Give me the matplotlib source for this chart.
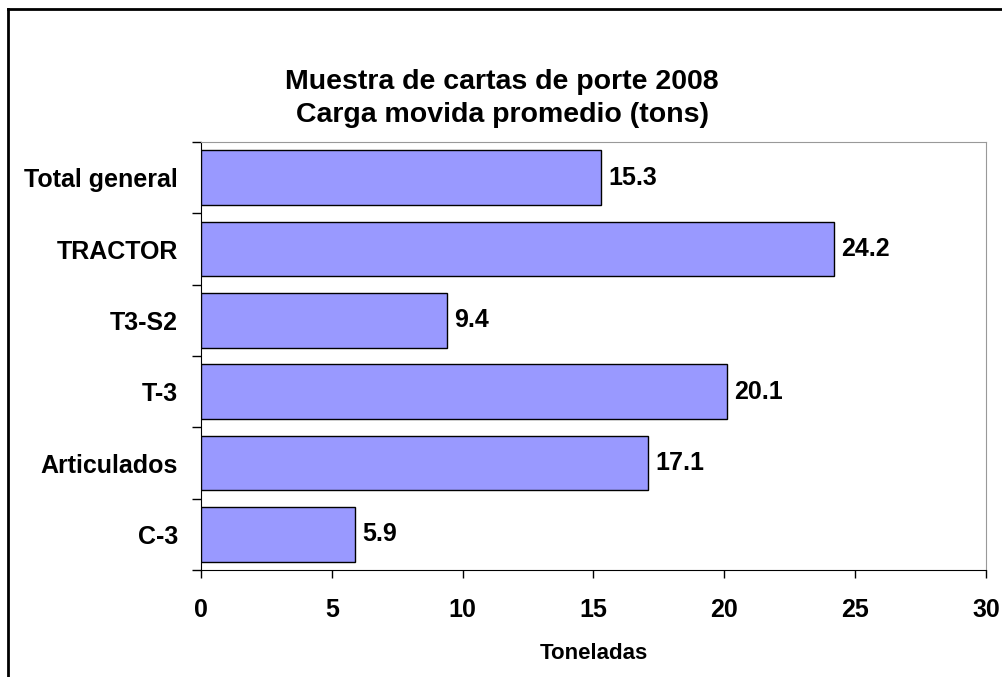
import numpy as np
import matplotlib
matplotlib.use("Agg")
from matplotlib import pyplot as plt
from matplotlib.lines import Line2D

categories = ["C-3", "Articulados", "T-3", "T3-S2", "TRACTOR", "Total general"]
values = [5.9, 17.1, 20.1, 9.4, 24.2, 15.3]
xticks = [0, 5, 10, 15, 20, 25, 30]

plt.rcParams['font.family'] = ['Liberation Sans', 'DejaVu Sans']
plt.rcParams['font.weight'] = 'bold'

fig = plt.figure(figsize=(10.03, 6.77), dpi=100)
ax = fig.add_axes([201/1003, 1-570/677, (986-201)/1003, (570-142)/677])

pos = np.arange(len(categories))
ax.barh(pos, values, height=0.77, color="#9999FF", edgecolor="black", linewidth=1.0, zorder=3)
for p, v in zip(pos, values):
    ax.annotate("{:.1f}".format(v), (v, p), xytext=(5, 0), textcoords="offset points",
                va="center", ha="left", fontsize=18, fontweight="bold")

ax.set_xlim(0, 30)
ax.set_ylim(-0.5, len(categories) - 0.5)
ax.set_xticks(xticks)
ax.set_xticklabels([str(t) for t in xticks], fontsize=18, fontweight="bold")
ax.tick_params(axis="x", direction="out", length=6, width=1, pad=14)

# ticks between categories, labels at centres
ax.set_yticks(np.arange(-0.5, len(categories)), minor=False)
ax.set_yticklabels([])
ax.set_yticks(pos, minor=True)
ax.set_yticklabels(categories, minor=True, fontsize=18, fontweight="bold")
ax.tick_params(axis="y", which="major", direction="out", length=6.5, width=1)
ax.tick_params(axis="y", which="minor", length=0, pad=16.5)

ax.spines["top"].set_color("#999999")
ax.spines["right"].set_color("#999999")
ax.spines["left"].set_color("black")
ax.spines["bottom"].set_color("black")

ax.set_xlabel("Toneladas", fontsize=16, fontweight="bold", labelpad=15)

fig.text(502/1003, 1 - 82/677, "Muestra de cartas de porte 2008",
         ha="center", va="center", fontsize=20.5, fontweight="bold")
fig.text(502/1003, 1 - 115/677, "Carga movida promedio (tons)",
         ha="center", va="center", fontsize=20.5, fontweight="bold")

# chart area border (top and left visible)
fig.add_artist(Line2D([8.5/1003, 8.5/1003], [0, 1 - 9/677], color="black", linewidth=2))
fig.add_artist(Line2D([8.5/1003, 1], [1 - 9/677, 1 - 9/677], color="black", linewidth=2))

fig.savefig("out.png", dpi=100)
